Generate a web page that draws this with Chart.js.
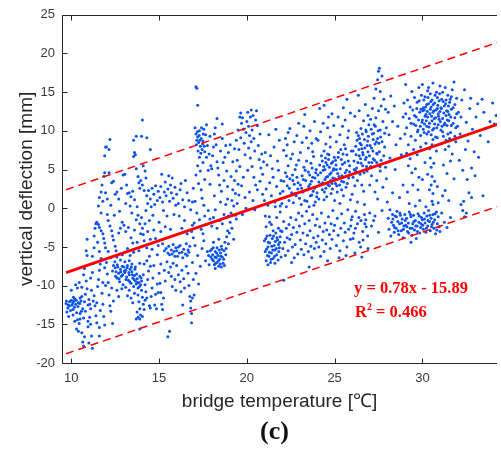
<!DOCTYPE html>
<html>
<head>
<meta charset="utf-8">
<script src="https://cdn.jsdelivr.net/npm/chart.js@4.4.0/dist/chart.umd.min.js"></script>
<style>
  body { margin: 0; background: #fff; }
  #wrap { position: relative; width: 501px; height: 450px; }
  .eq { position: absolute; font-family: 'Liberation Serif', 'Times New Roman', serif; font-weight: bold; color: #ff0000; font-size: 16.5px; line-height: 1; white-space: nowrap; }
  .eq sup { font-size: 10px; vertical-align: baseline; position: relative; top: -7px; }
  #panel { position: absolute; left: 260px; top: 418px; font-family: 'Liberation Serif', 'Times New Roman', serif; font-weight: bold; font-size: 26px; line-height: 1; color: #111; }
</style>
</head>
<body>
<div id="wrap">
  <canvas id="chart" width="501" height="450"></canvas>
  <div class="eq" style="left:354px; top:280px;">y = 0.78x - 15.89</div>
  <div class="eq" style="left:355px; top:304px;">R<sup>2</sup> = 0.466</div>
  <div id="panel">(c)</div>
</div>
<script>
// --- tick labels ---
const xTicks = [10, 15, 20, 25, 30];
const yTicks = [-20, -15, -10, -5, 0, 5, 10, 15, 20, 25];

// --- fitted line and +/- bounds (end points) ---
const regLine = [[9.7, -8.32], [34.5, 11.02]];
const upperBound = [[9.7, 2.4], [34.5, 21.6]];
const lowerBound = [[9.7, -18.8], [34.5, 0.4]];

const pts10to12 = [
  [9.7,-12.3],[9.8,-12.9],[9.9,-12.1],[9.75,-13.4],[9.9,-12.6],[10.0,-11.9],[10.05,-12.5],[10.1,-13.1],[10.15,-12.0],[10.2,-11.7],
  [10.25,-12.4],[10.3,-13.5],[10.35,-14.4],[10.3,-15.6],[10.4,-15.9],[10.45,-14.9],[10.5,-13.6],[10.4,-12.2],[10.5,-11.6],[10.55,-12.0],
  [10.35,-10.3],[10.45,-9.6],[10.6,-10.2],[10.6,-16.1],[10.65,-17.3],[10.7,-17.8],[10.75,-16.6],[10.7,-14.2],[10.8,-13.3],[10.75,-12.1],
  [10.8,-11.1],[10.85,-9.4],[10.7,-8.6],[10.75,-7.8],[10.85,-5.5],[10.9,-4.0],[10.9,-6.1],[10.95,-14.6],[10.95,-15.3],[10.6,-11.4],
  [10.65,-13.0],[10.5,-14.3],[10.2,-14.6],[10.1,-13.8],[9.85,-14.0],[10.0,-10.6],[10.25,-9.9],[10.9,-10.4],[10.95,-12.5],
  [9.72,-12.0],[9.82,-12.5],[9.95,-13.2],[10.08,-12.2],[10.18,-12.8],[10.28,-11.9],[10.38,-12.7],[10.48,-12.3],[10.58,-13.3],[10.12,-11.5],
  [11.0,-11.8],[11.05,-12.4],[11.1,-13.0],[11.05,-14.1],[11.1,-15.0],[11.15,-16.5],[11.2,-18.1],[11.0,-17.4],[11.15,-10.6],[11.1,-9.0],
  [11.2,-8.3],[11.25,-7.1],[11.2,-6.2],[11.3,-5.1],[11.3,-3.6],[11.35,-2.6],[11.4,-2.0],[11.45,-1.8],[11.55,-2.1],[11.6,-2.5],
  [11.7,-2.9],[11.8,-3.3],[11.85,-3.9],[11.9,-4.5],[11.95,-5.1],[11.3,-11.3],[11.35,-12.6],[11.4,-13.9],[11.45,-14.8],[11.5,-10.1],
  [11.55,-9.2],[11.6,-8.0],[11.65,-7.2],[11.7,-6.5],[11.75,-11.0],[11.8,-12.4],[11.85,-14.0],[11.9,-15.1],[11.95,-10.0],[11.5,-4.4],
  [11.6,-5.6],[11.25,-12.0],[11.45,-12.2],[11.65,-13.2],[11.8,-9.6],[11.9,-7.7],[11.55,0.3],[11.6,1.4],[11.7,2.1],[11.75,3.0],
  [11.85,4.1],[11.9,4.6],[11.95,2.0],[11.8,0.9],[11.7,-0.6],[11.95,7.9],[11.6,-15.4],[11.6,-16.5]
];
const pts12to14 = [
  [12.0,7.9],[12.2,8.9],[12.15,7.6],[11.9,6.8],[12.15,4.6],[12.4,3.5],[12.6,2.1],[12.3,3.3],[12.05,1.2],[12.25,0.4],
  [12.5,1.8],[12.7,1.2],[12.85,2.6],[12.95,4.3],[12.75,-0.4],[12.05,-0.8],[12.1,-1.6],[12.2,-2.3],[12.3,-2.9],[12.35,-3.6],
  [12.4,-4.1],[12.5,-4.9],[12.55,-5.5],[12.6,-6.3],[12.7,-3.2],[12.8,-2.6],[12.9,-1.8],[12.45,-0.9],[12.0,-7.0],[12.05,-8.5],
  [12.1,-9.6],[12.15,-11.2],[12.2,-12.6],[12.25,-13.3],[12.3,-10.3],[12.35,-8.1],[12.4,-7.4],[12.5,-7.7],[12.55,-8.2],[12.6,-9.0],
  [12.65,-7.6],[12.7,-8.4],[12.75,-9.5],[12.8,-7.9],[12.85,-8.8],[12.9,-7.5],[12.95,-9.9],[12.6,-10.6],[12.7,-11.4],[12.4,-12.0],
  [12.8,-6.7],[12.9,-6.0],[12.35,-14.9],[12.1,-5.6],[12.25,-6.4],
  [12.52,-8.8],[12.62,-7.3],[12.72,-9.1],[12.82,-8.2],[12.92,-8.6],[12.48,-6.9],[12.88,-10.4],
  [13.05,4.4],[13.3,2.0],[13.4,1.5],[13.5,2.2],[13.55,6.7],[13.6,7.2],[13.65,6.9],[13.7,5.1],[13.8,4.1],[13.85,3.3],
  [13.9,2.6],[13.95,3.6],[13.1,0.6],[13.2,1.9],[13.35,0.3],[13.6,1.1],[13.75,0.2],[13.15,3.0],[13.45,-0.6],[13.7,9.3],
  [13.55,8.8],[13.0,-2.2],[13.1,-3.0],[13.25,-2.5],[13.4,-3.8],[13.5,-4.5],[13.6,-2.8],[13.7,-1.5],[13.8,-0.9],[13.9,-2.0],
  [13.95,-3.3],[13.2,-5.2],[13.35,-6.1],[13.55,-5.7],[13.75,-4.4],[13.85,-5.5],[13.0,-7.6],[13.05,-8.3],[13.1,-8.0],[13.15,-8.9],
  [13.2,-7.4],[13.25,-9.3],[13.3,-8.6],[13.35,-7.9],[13.4,-9.7],[13.45,-8.2],[13.5,-9.0],[13.55,-10.1],[13.6,-8.7],[13.65,-9.4],
  [13.7,-9.8],[13.75,-9.1],[13.8,-10.3],[13.85,-9.6],[13.9,-8.8],[13.95,-9.9],[13.8,-11.2],[13.85,-12.1],[13.9,-13.0],[13.95,-13.8],
  [13.9,-14.3],[13.8,-14.1],[13.7,-14.3],[13.75,-13.4],[13.6,-11.0],[13.5,-12.2],[13.4,-11.6],[13.3,-10.6],[13.2,-11.3],[13.1,-10.2],
  [13.05,-6.9],[13.3,-6.8],[13.45,-7.2],[13.65,-7.6],[13.9,-7.1],[13.9,-15.6],
  [13.02,-8.1],[13.12,-9.2],[13.18,-7.7],[13.28,-8.3],[13.33,-9.5],[13.42,-7.6],[13.48,-8.6],[13.58,-9.2],[13.62,-7.9],[13.72,-8.5],
  [13.78,-9.6],[13.88,-10.1],[13.97,-9.0]
];
const pts14to16 = [
  [14.05,11.4],[14.0,9.3],[14.3,9.1],[14.5,7.6],[14.1,5.5],[14.2,4.8],[14.05,3.0],[14.15,2.3],[14.3,1.6],[14.4,2.3],
  [14.5,1.2],[14.6,2.6],[14.7,1.8],[14.8,2.9],[14.9,1.0],[14.35,0.6],[14.55,0.2],[14.75,0.5],[14.95,2.2],[14.25,3.9],
  [14.0,-1.2],[14.05,-2.6],[14.1,-3.4],[14.15,-4.2],[14.2,-2.0],[14.3,-5.1],[14.35,-3.0],[14.45,-1.6],[14.5,-4.0],[14.6,-5.3],
  [14.7,-2.8],[14.8,-3.9],[14.9,-6.0],[14.95,-4.8],[14.25,-0.3],[14.65,-0.9],[14.0,-10.6],[14.05,-11.5],[14.1,-12.4],[14.15,-13.1],
  [14.2,-11.9],[14.0,-9.4],[14.1,-8.6],[14.2,-9.9],[14.25,-10.8],[14.3,-11.6],[14.35,-9.2],[14.4,-8.1],[14.45,-12.6],[14.5,-12.9],
  [14.55,-11.4],[14.6,-10.3],[14.65,-9.0],[14.7,-7.4],[14.75,-12.5],[14.8,-11.1],[14.85,-13.0],[14.9,-9.8],[14.95,-10.9],[14.3,-6.8],
  [14.5,-7.5],[14.15,-7.2],[14.05,-14.0],[14.45,-6.2],
  [15.05,1.4],[15.1,2.8],[15.2,0.8],[15.3,2.1],[15.35,3.4],[15.4,1.6],[15.5,2.5],[15.6,0.9],[15.65,3.0],[15.7,2.0],
  [15.8,1.3],[15.9,2.7],[15.95,0.4],[15.25,-0.3],[15.55,4.2],[15.75,3.9],[15.15,4.4],[15.0,-1.8],[15.1,-3.0],[15.2,-4.6],
  [15.3,-5.5],[15.35,-2.4],[15.4,-5.2],[15.5,-5.8],[15.55,-4.9],[15.6,-6.0],[15.7,-5.4],[15.75,-5.9],[15.8,-4.7],[15.85,-5.6],
  [15.9,-6.2],[15.95,-5.1],[15.45,-1.0],[15.65,-2.7],[15.85,-0.8],[15.0,-8.4],[15.05,-9.7],[15.1,-10.9],[15.15,-12.4],[15.2,-13.1],
  [15.1,-7.2],[15.3,-8.0],[15.35,-9.4],[15.45,-6.9],[15.5,-16.6],[15.6,-15.9],[15.65,-7.6],[15.7,-8.8],[15.75,-10.1],[15.8,-7.1],
  [15.9,-9.2],[15.95,-10.6],[15.25,-11.6],[15.55,-8.3]
];
const pts16to18 = [
  [16.0,1.8],[16.1,0.6],[16.2,2.4],[16.25,3.2],[16.35,1.1],[16.45,0.2],[16.6,2.0],[16.7,1.0],[16.8,-0.2],[16.9,0.8],
  [16.95,2.6],[16.5,3.6],[16.0,-5.5],[16.05,-6.2],[16.1,-5.0],[16.15,-5.8],[16.2,-4.8],[16.3,-5.7],[16.35,-6.4],[16.4,-5.3],
  [16.5,-5.9],[16.55,-4.6],[16.6,-6.1],[16.65,-5.4],[16.7,-5.7],[16.75,-4.9],[16.85,-3.0],[16.9,-2.2],[16.95,-3.8],[16.3,-2.6],
  [16.45,-1.6],[16.6,-3.3],[16.15,-1.0],[16.0,-7.4],[16.1,-8.6],[16.2,-9.5],[16.25,-10.8],[16.3,-8.0],[16.4,-9.1],[16.45,-10.3],
  [16.55,-7.5],[16.65,-8.4],[16.7,-10.0],[16.75,-11.4],[16.8,-12.0],[16.8,-12.9],[16.85,-13.6],[16.85,-14.8],[16.9,-11.6],[16.95,-9.2],
  [16.9,-7.0],[16.35,-12.5],
  [17.1,15.7],[17.15,15.5],[17.2,13.3],[17.05,10.4],[17.1,9.6],[17.15,8.8],[17.2,9.2],[17.25,8.5],[17.3,10.0],[17.35,8.0],
  [17.4,9.0],[17.45,7.6],[17.5,8.7],[17.55,10.2],[17.6,7.3],[17.65,9.5],[17.3,6.6],[17.2,5.5],[17.1,4.3],[17.25,3.2],
  [17.35,4.8],[17.4,2.4],[17.5,5.9],[17.45,1.3],[17.55,0.4],[17.6,3.7],[17.7,6.6],[17.75,8.1],[17.8,4.9],[17.85,7.0],
  [17.9,3.1],[17.95,5.5],[17.05,0.9],[17.15,-0.6],[17.3,-1.5],[17.4,-2.7],[17.5,-3.3],[17.6,-1.0],[17.7,-2.1],[17.8,-0.3],
  [17.9,-1.4],[17.05,-4.8],[17.2,-6.1],[17.35,-7.5],[17.45,-5.2],[17.55,-4.2],[17.65,-6.8],[17.75,-5.6],[17.85,-7.3],[17.95,-6.3],
  [17.25,-9.8],[17.1,-8.4],[17.0,-1.9],[17.0,-11.2],[17.7,10.8],[17.9,9.3],
  [17.12,8.2],[17.18,9.9],[17.22,7.4],[17.28,9.4],[17.33,8.8],[17.38,7.1],[17.42,10.4],[17.48,8.3],[17.52,9.6],[17.58,8.0],
  [17.82,-6.1],[17.92,-5.5]
];
const pts18to20 = [
  [18.0,-5.3],[18.05,-6.0],[18.1,-6.8],[18.15,-7.3],[18.2,-5.6],[18.25,-6.4],[18.3,-7.0],[18.3,-5.1],[18.35,-6.1],[18.4,-7.5],
  [18.45,-6.6],[18.5,-5.8],[18.55,-4.9],[18.6,-6.3],[18.65,-7.1],[18.7,-5.5],[18.75,-4.4],[18.8,-6.0],[18.85,-3.7],[18.9,-2.9],
  [18.95,-4.6],[18.1,-4.4],[18.4,-4.0],[18.2,-7.8],[18.55,-7.6],[18.0,-2.3],[18.1,-1.2],[18.2,-0.2],[18.3,-2.6],[18.45,-1.6],
  [18.6,-2.0],[18.7,-0.8],[18.8,0.5],[18.9,1.2],[18.95,-1.0],[18.15,1.6],[18.5,0.8],[18.0,5.1],[18.05,6.8],[18.1,7.9],
  [18.15,9.6],[18.2,10.4],[18.25,8.2],[18.3,6.0],[18.35,5.2],[18.4,4.3],[18.45,3.0],[18.5,7.4],[18.55,2.2],[18.6,9.0],
  [18.65,5.9],[18.7,3.6],[18.75,6.6],[18.8,8.1],[18.85,4.8],[18.9,2.8],[18.95,7.2],[18.3,11.6],[18.6,10.9],
  [18.02,-6.6],[18.08,-5.1],[18.18,-6.3],[18.22,-7.1],[18.28,-5.8],[18.38,-6.8],[18.42,-5.4],[18.48,-7.2],[18.52,-6.2],[18.58,-5.3],
  [18.68,-6.6],[18.72,-7.4],[18.82,-5.2],
  [19.0,-3.2],[19.05,-1.8],[19.1,-0.6],[19.15,1.0],[19.2,2.4],[19.25,0.3],[19.3,3.6],[19.35,1.9],[19.4,4.8],[19.45,6.2],
  [19.5,3.1],[19.55,7.6],[19.6,5.4],[19.65,9.1],[19.7,11.0],[19.75,11.7],[19.8,10.2],[19.85,8.4],[19.9,6.9],[19.95,9.8],
  [19.1,4.1],[19.2,6.0],[19.3,7.7],[19.4,8.8],[19.5,10.1],[19.6,11.8],[19.65,12.3],[19.15,-2.6],[19.35,-0.9],[19.45,0.6],
  [19.55,1.7],[19.7,2.9],[19.8,4.0],[19.9,1.4],[19.25,-4.0],[19.05,8.2],[19.4,-1.4],[19.95,0.0],[19.75,-0.8]
];
const pts20to22 = [
  [20.0,11.2],[20.05,12.4],[20.1,10.6],[20.15,9.4],[20.2,11.8],[20.25,8.6],[20.3,10.1],[20.35,12.0],[20.4,9.0],[20.45,7.4],
  [20.5,11.4],[20.55,12.6],[20.6,10.7],[20.65,8.1],[20.7,6.3],[20.75,9.6],[20.8,5.2],[20.85,7.0],[20.9,4.4],[20.95,6.0],
  [20.1,7.8],[20.2,6.5],[20.3,5.4],[20.4,4.0],[20.5,3.0],[20.15,2.1],[20.35,1.0],[20.6,2.4],[20.75,3.5],[20.9,1.8],
  [20.05,4.9],[20.45,-0.2],[20.25,12.7],
  [21.0,-4.2],[21.05,-5.6],[21.1,-6.8],[21.15,-3.6],[21.2,-5.0],[21.25,-6.2],[21.3,-4.5],[21.35,-7.0],[21.4,-5.8],[21.45,-3.9],
  [21.5,-6.5],[21.55,-4.8],[21.6,-5.4],[21.65,-3.2],[21.7,-6.0],[21.75,-4.1],[21.8,-2.6],[21.85,-5.1],[21.9,-3.7],[21.95,-6.3],
  [21.1,-2.4],[21.3,-1.8],[21.5,-2.9],[21.7,-1.2],[21.9,-0.5],[21.2,-7.3],[21.6,-7.1],[21.4,-2.1],[21.05,-1.0],[21.8,-4.7],
  [21.0,1.0],[21.1,2.5],[21.2,0.4],[21.3,3.3],[21.4,1.6],[21.5,4.0],[21.6,0.8],[21.7,2.8],[21.8,4.9],[21.9,1.9],
  [21.95,3.6],[21.15,5.6],[21.35,6.8],[21.55,7.9],[21.75,6.1],[21.85,8.8],[21.25,9.5],[21.65,10.2],[21.45,5.1],[21.05,7.2],
  [21.9,0.3],
  [21.08,-3.9],[21.12,-5.3],[21.18,-6.1],[21.22,-4.4],[21.28,-5.7],[21.32,-3.5],[21.38,-6.6],[21.42,-4.9],[21.48,-5.4],[21.52,-3.6],
  [21.58,-6.2],[21.62,-4.3],[21.68,-5.2],[21.72,-3.8],[21.78,-6.7],[21.82,-5.6],[21.88,-4.4],[21.92,-2.9],[21.28,-1.1],[21.62,0.2]
];
const pts22to24 = [
  [22.0,-3.0],[22.05,-5.2],[22.1,-1.7],[22.15,-4.4],[22.2,-6.1],[22.25,-2.6],[22.3,-3.8],[22.35,-5.5],[22.4,-2.1],[22.45,-4.0],
  [22.5,-1.2],[22.55,-3.4],[22.6,-5.0],[22.65,-2.5],[22.7,-6.4],[22.75,-4.7],[22.8,-1.5],[22.85,-3.1],[22.9,-5.9],[22.95,-0.6],
  [22.0,0.6],[22.05,2.2],[22.1,3.5],[22.15,1.4],[22.2,4.6],[22.25,0.2],[22.3,2.9],[22.35,5.5],[22.4,1.0],[22.45,3.8],
  [22.5,6.4],[22.55,2.0],[22.6,4.3],[22.65,0.7],[22.7,3.1],[22.75,5.0],[22.8,1.6],[22.85,4.0],[22.9,2.5],[22.95,6.2],
  [22.1,7.5],[22.2,9.0],[22.3,8.2],[22.35,9.8],[22.45,10.3],[22.6,7.0],[22.7,8.6],[22.85,9.4],[22.95,11.0],[22.25,6.8],
  [22.55,-7.0],[22.1,-9.3],
  [22.62,3.6],[22.72,1.9],[22.82,5.6],[22.92,3.3],[22.42,2.6],[22.28,4.1],
  [23.0,-2.3],[23.05,-4.1],[23.1,-5.3],[23.15,-1.0],[23.2,-3.2],[23.25,-6.0],[23.3,-2.0],[23.35,-4.6],[23.4,-0.4],[23.45,-3.5],
  [23.5,-5.6],[23.55,-1.6],[23.6,-2.9],[23.65,-4.9],[23.7,-6.4],[23.75,-0.8],[23.8,-3.8],[23.85,-5.2],[23.9,-2.2],[23.95,-4.4],
  [23.0,1.3],[23.05,3.0],[23.1,0.5],[23.15,4.2],[23.2,2.1],[23.25,5.3],[23.3,1.0],[23.35,3.6],[23.4,6.1],[23.45,2.4],
  [23.5,4.7],[23.55,0.2],[23.6,3.1],[23.65,5.8],[23.7,1.7],[23.75,4.0],[23.8,6.7],[23.85,2.6],[23.9,0.8],[23.95,5.0],
  [23.05,7.2],[23.15,8.5],[23.25,10.6],[23.4,9.1],[23.5,7.8],[23.6,10.0],[23.7,8.4],[23.85,11.2],[23.95,9.0],[23.3,12.1],
  [23.55,-7.6],[23.75,7.3],
  [23.52,2.8],[23.58,4.3],[23.62,1.6],[23.68,3.5],[23.72,5.2],[23.78,2.2],[23.82,0.4],[23.88,3.9],[23.92,4.6],[23.98,1.5],
  [23.12,2.6],[23.22,3.7],[23.32,4.9],[23.42,0.9]
];
const pts24to26 = [
  [24.0,-1.4],[24.05,-3.6],[24.1,-5.0],[24.15,-2.4],[24.2,-6.2],[24.25,-0.6],[24.3,-4.1],[24.35,-3.0],[24.4,-5.6],[24.45,-1.9],
  [24.5,-4.6],[24.55,-2.8],[24.6,-6.8],[24.65,-1.1],[24.7,-3.4],[24.75,-5.2],[24.8,-2.0],[24.85,-4.0],[24.9,-0.3],[24.95,-2.9],
  [24.0,2.0],[24.05,4.3],[24.1,1.2],[24.15,5.6],[24.2,3.1],[24.25,6.8],[24.3,2.4],[24.35,4.9],[24.4,7.4],[24.45,3.7],
  [24.5,5.9],[24.55,1.5],[24.6,4.1],[24.65,6.3],[24.7,2.9],[24.75,7.9],[24.8,4.6],[24.85,3.2],[24.9,6.0],[24.95,5.1],
  [24.1,3.4],[24.3,6.1],[24.5,2.6],[24.7,5.3],[24.9,3.9],[24.2,4.6],[24.4,1.1],[24.6,7.0],[24.8,1.9],[24.45,5.0],
  [24.05,8.8],[24.2,9.9],[24.35,11.0],[24.5,8.3],[24.6,10.4],[24.75,9.2],[24.85,12.2],[24.95,10.7],[24.15,12.9],[24.4,13.3],
  [24.65,11.8],
  [24.32,3.3],[24.38,5.4],[24.42,2.1],[24.48,6.5],[24.52,4.0],[24.58,5.6],[24.62,3.0],[24.68,6.9],[24.72,4.4],[24.78,3.6],
  [24.82,5.8],[24.88,2.5],[24.92,4.9],[24.98,6.6],
  [25.0,-2.2],[25.1,-4.8],[25.15,-1.3],[25.2,-3.5],[25.3,-5.5],[25.35,-2.6],[25.4,-0.7],[25.5,-4.2],[25.55,-1.9],[25.6,-3.1],
  [25.7,-5.0],[25.75,-0.2],[25.8,-2.7],[25.9,-4.0],[25.95,-1.5],[25.25,-6.4],[25.65,-6.1],[25.0,1.0],[25.05,3.2],[25.1,5.0],
  [25.15,2.1],[25.2,6.6],[25.25,4.1],[25.3,0.6],[25.35,7.6],[25.4,3.5],[25.45,5.7],[25.5,1.6],[25.55,8.2],[25.6,4.6],
  [25.65,2.7],[25.7,6.9],[25.75,9.1],[25.8,3.9],[25.85,5.5],[25.9,1.1],[25.95,7.4],[25.1,8.6],[25.3,9.5],[25.45,10.6],
  [25.6,11.4],[25.8,10.0],[25.9,12.3],[25.2,11.8],[25.5,13.0],[25.7,14.1],[25.4,2.4],[25.85,4.7],[25.05,6.2],
  [25.02,3.8],[25.08,5.6],[25.12,2.9],[25.18,4.5],[25.22,7.2],[25.28,3.0],[25.32,5.1],[25.38,6.3],[25.42,4.2],[25.48,7.0],
  [25.52,3.4],[25.58,5.9],[25.62,7.7],[25.68,4.9],[25.72,3.2],[25.78,6.1],[25.92,-2.3]
];
const pts26to28 = [
  [26.0,-1.1],[26.1,-3.2],[26.2,-0.4],[26.3,-2.0],[26.4,-4.4],[26.5,-1.6],[26.6,-3.0],[26.7,-0.8],[26.8,-2.4],[26.9,-5.2],
  [26.15,-5.8],[26.55,-6.3],[26.0,1.8],[26.05,4.0],[26.1,6.1],[26.15,2.9],[26.2,8.0],[26.25,5.2],[26.3,3.6],[26.35,9.4],
  [26.4,6.8],[26.45,4.4],[26.5,10.3],[26.55,7.7],[26.6,5.5],[26.65,2.2],[26.7,8.9],[26.75,6.3],[26.8,9.9],[26.85,4.8],
  [26.9,7.3],[26.95,10.8],[26.05,7.4],[26.25,9.8],[26.45,8.4],[26.65,11.3],[26.85,8.1],[26.3,0.8],[26.7,0.5],[26.55,3.0],
  [26.95,5.9],[26.15,11.9],[26.4,12.6],[26.75,13.4],[26.9,12.0],[26.35,14.6],[26.6,7.2],[26.8,6.6],[26.2,4.8],[26.5,5.8],
  [26.32,5.9],[26.38,7.6],[26.42,9.0],[26.48,6.4],[26.52,8.2],[26.58,9.6],[26.62,6.9],[26.68,4.6],[26.72,7.8],[26.78,10.1],
  [26.82,5.4],[26.88,8.7],[26.92,9.3],[26.98,6.8],[26.12,5.0],[26.22,6.9],[26.28,8.8],
  [26.18,-2.6],[26.38,-1.2],[26.62,-4.1],[26.78,-1.5],[26.05,-3.9],[26.88,-3.6],[26.48,-5.0],[26.72,-2.0],
  [27.0,-0.6],[27.1,-2.3],[27.3,-1.0],[27.5,-3.1],[27.7,-0.3],[27.0,3.0],[27.05,5.4],[27.1,7.8],[27.15,9.6],[27.2,6.4],
  [27.25,10.8],[27.3,8.3],[27.35,11.7],[27.4,5.9],[27.45,9.0],[27.5,12.6],[27.55,7.3],[27.6,10.1],[27.65,13.2],[27.7,8.6],
  [27.75,11.2],[27.8,6.8],[27.85,9.7],[27.9,12.8],[27.95,10.4],[27.05,11.5],[27.15,12.9],[27.25,14.2],[27.35,15.4],[27.45,16.6],
  [27.5,17.7],[27.55,18.1],[27.7,17.1],[27.6,15.1],[27.8,14.1],[27.1,4.2],[27.3,2.1],[27.4,3.6],[27.6,4.8],[27.75,2.7],
  [27.9,5.3],[27.2,8.9],[27.4,7.1],[27.65,6.2],[27.85,7.9],[27.45,1.2],[27.95,3.8],
  [27.02,8.1],[27.08,10.2],[27.12,5.9],[27.18,7.4],[27.22,9.7],[27.28,6.2],[27.32,10.6],[27.38,8.6],[27.42,7.0],[27.48,10.0],
  [27.52,8.4],[27.58,5.4],[27.62,9.2],[27.22,-1.6]
];
const pts28to30 = [
  [28.05,12.4],[28.1,9.5],[28.2,14.5],[28.3,11.2],[28.4,13.2],[28.5,8.2],[28.6,10.6],[28.75,9.0],[28.9,11.8],[28.15,6.5],
  [28.45,5.0],[28.8,6.9],[28.95,13.6],[28.0,0.8],[28.05,-1.3],[28.1,-2.7],[28.15,-0.2],[28.2,-3.6],[28.25,-1.8],[28.3,-0.8],
  [28.35,-2.2],[28.4,-3.1],[28.45,-1.0],[28.5,-2.6],[28.55,-0.4],[28.6,-1.7],[28.65,-3.4],[28.7,-2.0],[28.75,-0.9],[28.8,-2.9],
  [28.85,-1.4],[28.9,-3.8],[28.95,-2.3],[28.3,2.0],[28.7,1.4],[28.9,3.0],
  [28.32,-1.4],[28.42,-2.5],[28.52,-1.1],[28.62,-2.9],[28.72,-0.6],[28.82,-1.9],[28.92,-2.7],
  [29.0,9.6],[29.05,12.2],[29.1,10.4],[29.15,14.0],[29.2,8.2],[29.25,11.6],[29.3,13.1],[29.35,9.3],[29.4,15.1],[29.45,12.7],
  [29.5,10.9],[29.55,14.3],[29.6,8.8],[29.65,11.8],[29.7,13.7],[29.75,10.1],[29.8,15.6],[29.85,12.4],[29.9,9.4],[29.95,14.6],
  [29.1,7.1],[29.3,6.4],[29.5,7.6],[29.7,6.9],[29.9,7.9],[29.2,5.5],[29.4,4.6],[29.6,5.1],[29.8,4.0],[29.45,3.0],
  [29.15,2.1],[29.75,2.4],[29.05,16.0],[29.55,12.0],[29.35,11.0],[29.0,-0.8],[29.05,-2.2],[29.1,-1.3],[29.15,-3.0],[29.2,-1.9],
  [29.25,-0.5],[29.3,-2.6],[29.35,-1.1],[29.4,-3.5],[29.45,-2.0],[29.5,-0.9],[29.55,-2.8],[29.6,-1.6],[29.65,-3.9],[29.7,-2.3],
  [29.75,-0.7],[29.8,-1.8],[29.85,-3.2],[29.9,-2.5],[29.95,-1.2],[29.25,0.6],[29.6,0.3],[29.85,1.0],[29.35,-4.4],
  [29.02,-1.6],[29.12,-2.4],[29.22,-3.2],[29.32,-0.8],[29.42,-2.6],[29.52,-1.7],[29.62,-2.3],[29.72,-3.0],[29.82,-1.0],[29.92,-2.0],
  [29.62,10.7],[29.68,12.9],[29.72,9.9],[29.78,11.4],[29.82,13.9],[29.88,10.6],[29.92,12.8],[29.98,11.1]
];
const pts30to32 = [
  [30.0,11.4],[30.05,13.0],[30.1,9.8],[30.15,14.4],[30.2,12.1],[30.25,10.6],[30.3,15.2],[30.35,13.5],[30.4,11.0],[30.45,12.8],
  [30.5,9.5],[30.55,14.0],[30.6,12.4],[30.65,10.3],[30.7,13.6],[30.75,11.7],[30.8,15.0],[30.85,12.9],[30.9,10.8],[30.95,13.9],
  [30.05,10.2],[30.15,11.9],[30.25,13.4],[30.35,9.9],[30.45,14.8],[30.55,11.3],[30.65,12.6],[30.75,9.2],[30.85,14.3],[30.95,11.5],
  [30.1,12.7],[30.3,11.8],[30.5,13.1],[30.7,10.9],[30.9,12.2],[30.2,8.4],[30.4,7.7],[30.6,8.9],[30.8,7.4],[30.0,16.0],
  [30.6,16.2],[30.45,6.5],[30.5,5.3],[30.55,4.1],[30.5,3.0],[30.6,1.9],[30.55,0.9],[30.4,2.4],[30.65,5.8],[30.7,3.5],
  [30.3,4.4],[30.15,5.9],[30.85,2.8],[30.0,3.7],[30.0,-1.5],[30.05,-2.7],[30.1,-0.6],[30.15,-1.9],[30.2,-3.1],[30.25,-1.0],
  [30.3,-2.3],[30.35,-0.3],[30.4,-1.7],[30.45,-2.9],[30.5,-1.3],[30.55,-2.1],[30.6,-0.8],[30.65,-2.6],[30.7,-1.5],[30.75,-3.3],
  [30.8,-0.5],[30.85,-2.0],[30.9,-1.1],[30.95,-2.4],[30.2,0.2],[30.6,0.5],[30.9,0.7],
  [30.02,-2.2],[30.12,-1.4],[30.22,-2.6],[30.32,-1.6],[30.42,-0.9],[30.52,-2.4],[30.62,-1.8],[30.72,-0.7],[30.82,-2.8],
  [30.02,12.6],[30.08,14.0],[30.12,10.9],[30.18,13.1],[30.22,11.3],[30.28,12.5],[30.32,14.3],[30.38,10.5],[30.42,12.2],[30.48,13.8],
  [30.52,11.9],[30.58,10.1],[30.62,13.4],[30.68,11.6],[30.72,14.6],[30.78,12.7],[30.82,10.4],[30.88,13.3],[30.92,11.9],[30.98,14.8],
  [30.25,9.6],[30.55,8.2],[30.85,9.1],[30.35,15.6],
  [31.0,12.5],[31.05,10.1],[31.1,14.1],[31.15,11.6],[31.2,9.3],[31.25,13.2],[31.3,15.6],[31.35,12.0],[31.4,10.7],[31.45,14.6],
  [31.5,11.3],[31.55,13.7],[31.6,9.8],[31.65,12.8],[31.7,15.3],[31.75,11.0],[31.8,16.3],[31.85,13.4],[31.9,10.4],[31.95,12.2],
  [31.05,13.0],[31.15,15.0],[31.25,10.8],[31.35,14.0],[31.45,12.5],[31.55,9.0],[31.65,14.4],[31.75,13.0],[31.85,11.7],[31.95,14.2],
  [31.1,8.4],[31.3,7.6],[31.5,8.0],[31.7,7.0],[31.9,8.6],[31.2,5.6],[31.4,4.5],[31.6,6.1],[31.8,3.8],[31.3,2.3],
  [31.5,1.0],[31.1,-0.6],[31.25,-1.8],[31.4,-2.5],[31.6,-1.2],[31.0,-3.0],[31.15,1.6],[31.45,9.6],[31.65,10.7],[31.85,9.3],
  [31.02,11.2],[31.08,12.9],[31.12,10.6],[31.18,13.8],[31.22,12.3],[31.28,11.0],[31.32,13.5],[31.38,12.6],[31.42,11.4],[31.48,13.2],
  [31.52,12.1],[31.58,14.1],[31.62,11.8],[31.15,9.9],[31.35,8.8],[31.0,15.8]
];
const pts32to35 = [
  [32.05,12.4],[32.15,9.6],[32.25,14.0],[32.4,15.3],[32.5,11.1],[32.6,8.7],[32.7,12.9],[32.85,10.2],[32.95,7.3],[33.05,11.8],
  [33.15,13.5],[33.3,9.4],[33.4,14.1],[33.5,12.4],[33.6,10.3],[33.75,8.6],[33.85,11.2],[34.0,13.6],[34.1,10.9],[34.2,12.0],
  [32.1,6.2],[32.3,4.9],[32.45,7.6],[32.55,3.7],[32.8,5.2],[33.0,4.2],[33.2,6.6],[32.2,0.5],[32.3,-0.3],[32.4,-1.1],
  [32.35,0.9],[32.5,-0.6],[32.8,1.4],[32.65,2.0],[33.45,1.6],[32.0,10.6],[32.2,11.8],[32.75,14.2]
];

const allPoints = [].concat(pts10to12, pts12to14, pts14to16, pts16to18, pts18to20, pts20to22,
  pts22to24, pts24to26, pts26to28, pts28to30, pts30to32, pts32to35);

const toXY = arr => arr.map(p => ({ x: p[0], y: p[1] }));

const axisColor = '#262626';
const tickColor = '#3a3a3a';

// frame (left, top, bottom) with inward ticks
const framePlugin = {
  id: 'frame',
  afterDraw(chart) {
    const { ctx, chartArea: a, scales } = chart;
    const L = Math.round(a.left) + 0.5, T = Math.round(a.top) + 0.5, B = Math.round(a.bottom) + 0.5, R = a.right;
    ctx.save();
    ctx.strokeStyle = axisColor;
    ctx.lineWidth = 1;
    ctx.beginPath();
    ctx.moveTo(R, T); ctx.lineTo(L, T); ctx.lineTo(L, B); ctx.lineTo(R, B);
    xTicks.forEach(v => {
      const px = Math.round(scales.x.getPixelForValue(v)) + 0.5;
      ctx.moveTo(px, B); ctx.lineTo(px, B - 5);
      ctx.moveTo(px, T); ctx.lineTo(px, T + 5);
    });
    yTicks.forEach(v => {
      const py = Math.round(scales.y.getPixelForValue(v)) + 0.5;
      ctx.moveTo(L, py); ctx.lineTo(L + 5, py);
    });
    ctx.stroke();
    ctx.restore();
  }
};

Chart.defaults.font.family = "'Liberation Sans', Arial, sans-serif";

new Chart(document.getElementById('chart'), {
  type: 'scatter',
  data: {
    datasets: [
      { data: toXY(regLine), showLine: true, borderColor: '#ff0000', borderWidth: 3, pointRadius: 0 },
      { data: toXY(upperBound), showLine: true, borderColor: '#ff0000', borderWidth: 1.5, borderDash: [8, 5], pointRadius: 0 },
      { data: toXY(lowerBound), showLine: true, borderColor: '#ff0000', borderWidth: 1.5, borderDash: [8, 5], pointRadius: 0 },
      { data: toXY(allPoints), pointRadius: 1.5, backgroundColor: '#0a52e8', borderWidth: 0 }
    ]
  },
  options: {
    responsive: false,
    animation: false,
    layout: { padding: { left: 0, right: 0, top: 11, bottom: 37 } },
    plugins: { legend: { display: false }, tooltip: { enabled: false } },
    scales: {
      x: {
        type: 'linear',
        min: 9.47,
        max: 34.25,
        afterBuildTicks: s => { s.ticks = xTicks.map(v => ({ value: v })); },
        afterFit: s => { s.height = 50; },
        grid: { display: false, drawTicks: false },
        border: { display: false },
        ticks: { padding: 8, color: tickColor, font: { size: 13 } },
        title: { display: true, text: 'bridge temperature [℃]', color: axisColor, font: { size: 19 }, padding: 0 }
      },
      y: {
        min: -20,
        max: 25,
        afterBuildTicks: s => { s.ticks = yTicks.map(v => ({ value: v })); },
        afterFit: s => { s.width = 62; },
        grid: { display: false, drawTicks: false },
        border: { display: false },
        ticks: { padding: 7, color: tickColor, font: { size: 13 } },
        title: { display: true, text: 'vertical deflection [mm]', color: axisColor, font: { size: 19 }, padding: { top: 15, bottom: 0 } }
      }
    }
  },
  plugins: [framePlugin]
});
</script>
</body>
</html>
